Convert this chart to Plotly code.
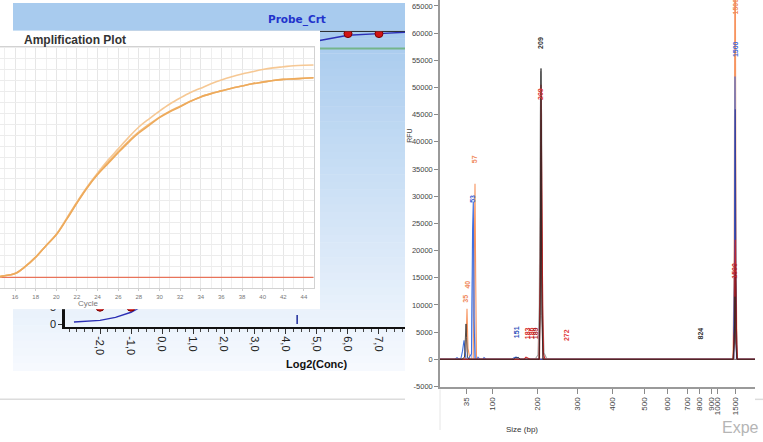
import plotly.graph_objects as go

W, H = 763, 442


def px(x):
    return x / W


def py(y):
    return 1 - y / H


# ---------------- Standard curve (Probe_Crt) ----------------
STD_LOG2_CONC = [-2, -1, 6, 7]
STD_VALUE = [5.0, 5.0, 86.2, 86.2]
FIT_LOG2_CONC = [-2.84, -2.5, -2.0, -1.5, -1.0, -0.5, 0, 1, 2, 3, 4, 5, 6, 7, 7.84]
FIT_VALUE = [0.6, 0.8, 1.1, 2.0, 3.5, 6.0, 20, 45, 65, 75, 80, 84, 85.7, 86.2, 86.6]
STD_TICKS = [-2, -1, 0, 1, 2, 3, 4, 5, 6, 7]
STD_TICKTEXT = ["-2,0", "-1,0", "0,0", "1,0", "2,0", "3,0", "4,0", "5,0", "6,0", "7,0"]
STD_Y_TICKS = [0, 5]
UNKNOWN_LOG2 = 4.36
GREEN_LEVEL = 81.8

# ---------------- Amplification plot ----------------
CYCLES = list(range(14, 46))
AMP_A = [1.0, 1.15, 1.35, 2.0, 2.85, 3.9, 4.9, 6.3, 7.8, 9.2, 10.4, 11.4, 12.4, 13.35, 14.2, 14.9,
         15.6, 16.15, 16.6, 17.1, 17.5, 17.8, 18.05, 18.3, 18.5, 18.7, 18.85, 19.0, 19.1, 19.15, 19.2, 19.25]
AMP_B = [1.0, 1.15, 1.35, 2.0, 2.85, 3.9, 4.95, 6.4, 7.9, 9.3, 10.55, 11.7, 12.75, 13.8, 14.75, 15.5,
         16.2, 16.85, 17.4, 17.9, 18.3, 18.7, 19.05, 19.35, 19.6, 19.8, 20.0, 20.15, 20.25, 20.35, 20.4, 20.42]
AMP_C = [1.0, 1.15, 1.35, 2.0, 2.85, 3.9, 4.92, 6.35, 7.85, 9.25, 10.45, 11.5, 12.5, 13.45, 14.3, 15.0,
         15.65, 16.2, 16.65, 17.1, 17.5, 17.8, 18.05, 18.3, 18.5, 18.7, 18.85, 19.0, 19.1, 19.15, 19.2, 19.25]
THRESHOLD = 1.0
CYCLE_TICKS = list(range(16, 45, 2))

# ---------------- Electropherogram ----------------
SIZE_TICKS = [35, 100, 200, 300, 400, 500, 600, 700, 800, 900, 1000, 1500]
SIZE_TICK_POS = [26, 52.3, 97.7, 137.7, 172.3, 204.3, 227.7, 247.7, 259.7, 271, 277.3, 295]
RFU_TICKS = list(range(-5000, 65001, 5000))

EP_LIGHTBLUE_T = [0, 31.5, 32.5, 33.6, 34.5, 35.5, 293.5, 294.6, 295.2, 295.8, 297, 315]
EP_LIGHTBLUE_Y = [0, 0, 15000, 26000, 10000, 0, 0, 15000, 36000, 12000, 0, 0]
EP_ORANGE_T = [0, 24, 25.8, 27, 28, 30, 33.2, 34.3, 35, 35.7, 36.5, 293, 294.2, 294.8, 295.4, 296, 297, 315]
EP_ORANGE_Y = [0, 0, 1500, 9300, 2000, 0, 0, 15000, 32300, 15000, 0, 0, 20000, 67000, 67000, 20000, 0, 0]
EP_BLUE_T = [0, 15, 17, 19, 21, 22.5, 24, 25, 26, 28, 31.5, 32.6, 33.3, 34, 35, 37, 38, 40, 43, 44, 46,
             72, 74, 76, 78, 80, 293.5, 294.5, 295, 295.6, 296.5, 315]
EP_BLUE_Y = [0, 0, 300, 0, 200, 1500, 3500, 1200, 0, 0, 1000, 24000, 29000, 8000, 0, 0, 400, 0, 0, 300, 0,
             0, 300, 400, 300, 0, 0, 18000, 52000, 10000, 0, 0]
EP_PURPLE_T = [0, 293.8, 294.9, 295.3, 295.9, 296.8, 315]
EP_PURPLE_Y = [0, 0, 20000, 46000, 15000, 0, 0]
EP_GRAY_T = [0, 95, 98, 99.3, 100.3, 100.8, 101.6, 102.6, 104, 107, 315]
EP_GRAY_Y = [0, 0, 800, 10000, 45000, 53000, 45000, 10000, 1200, 0, 0]
EP_RED_T = [0, 84, 86, 88, 90, 99, 100.3, 101, 101.6, 102.3, 102.8, 103.5, 105, 293, 294.5, 295.2, 296, 297.5, 315]
EP_RED_Y = [0, 0, 400, 200, 0, 0, 15000, 50500, 30000, 19000, 8000, 1000, 0, 0, 5000, 22000, 4000, 0, 0]
EP_DARKRED_T = [0, 99.5, 100.6, 101.2, 101.8, 103, 293.5, 294.8, 295.4, 296.2, 297, 315]
EP_DARKRED_Y = [0, 0, 20000, 44000, 15000, 0, 0, 8000, 17500, 5000, 0, 0]
EP_BLACK_T = [0, 22, 24.5, 25.5, 26, 26.6, 27.5, 30, 74, 75.5, 77, 78.5, 80, 99, 100.2, 100.7, 101,
              101.3, 101.8, 103, 293, 294.3, 295, 295.7, 297, 315]
EP_BLACK_Y = [0, 0, 400, 4500, 6500, 4000, 300, 0, 0, 300, 250, 350, 0, 0, 8000, 40000, 53500,
              38000, 8000, 0, 0, 3000, 11500, 3000, 0, 0]

PEAK_LABEL_T = [25.7, 27.3, 32.5, 34.5, 76.5, 87, 91, 95, 126.7, 260.7, 101, 101, 295.7, 295.5, 295]
PEAK_LABEL_RFU = [11100, 13800, 29600, 36900, 4900, 4800, 4800, 4800, 4400, 4700, 58200, 48800, 57000, 64800, 16300]
PEAK_LABEL_TEXT = ["35", "40", "53", "57", "151", "183", "186", "189", "272", "824", "209", "209", "1500", "1500", "1500"]
PEAK_LABEL_COLOR = ["#F08A5D", "#F08A5D", "#3B63D6", "#F08A5D", "#2A4DB8", "#D42A2A", "#D42A2A", "#B01E1E",
                    "#E03A3A", "#333333", "#333333", "#E03A3A", "#4468D8", "#F08A5D", "#C42828"]

fig = go.Figure()

# ---- standard curve traces (xy) ----
fig.add_trace(go.Scatter(x=FIT_LOG2_CONC, y=FIT_VALUE, mode="lines",
                         line=dict(color="#2B2FB5", width=1.4), xaxis="x", yaxis="y",
                         showlegend=False, hoverinfo="skip"))
fig.add_trace(go.Scatter(x=STD_LOG2_CONC, y=STD_VALUE, mode="markers",
                         marker=dict(color="#D01414", size=8, line=dict(color="#7A0000", width=1)),
                         xaxis="x", yaxis="y", showlegend=False, hoverinfo="skip"))

# ---- white inset panel holder (x2y2) ----
fig.add_trace(go.Scatter(x=[None], y=[None], xaxis="x2", yaxis="y2", showlegend=False, hoverinfo="skip"))

# ---- amplification curves (x3y3) ----
fig.add_trace(go.Scatter(x=[CYCLES[0], CYCLES[-1]], y=[THRESHOLD, THRESHOLD], mode="lines",
                         line=dict(color="#E8735A", width=1.2), xaxis="x3", yaxis="y3",
                         showlegend=False, hoverinfo="skip"))
for vals, col in [(AMP_B, "#F6C894"), (AMP_C, "#F2BB7A"), (AMP_A, "#EDAA5C")]:
    fig.add_trace(go.Scatter(x=CYCLES, y=vals, mode="lines", line=dict(color=col, width=1.6, shape="spline"),
                             xaxis="x3", yaxis="y3", showlegend=False, hoverinfo="skip"))

# ---- electropherogram (x4y4) ----
ep_series = [
    (EP_LIGHTBLUE_T, EP_LIGHTBLUE_Y, "#9DBBF2", 1.1),
    (EP_ORANGE_T, EP_ORANGE_Y, "#F7945F", 1.1),
    (EP_BLUE_T, EP_BLUE_Y, "#3F6FE0", 1.1),
    (EP_PURPLE_T, EP_PURPLE_Y, "#3A3F9A", 1.1),
    (EP_GRAY_T, EP_GRAY_Y, "#A0A0A0", 1.1),
    (EP_RED_T, EP_RED_Y, "#D02424", 1.1),
    (EP_DARKRED_T, EP_DARKRED_Y, "#8C1C1C", 1.1),
    (EP_BLACK_T, EP_BLACK_Y, "#2A2A2A", 0.8),
]
for t, y, col, w in ep_series:
    fig.add_trace(go.Scatter(x=t, y=y, mode="lines", line=dict(color=col, width=w),
                             xaxis="x4", yaxis="y4", showlegend=False, hoverinfo="skip"))

# ---------------- shapes ----------------
shapes = []
top_col = (168, 203, 238)
bot_col = (246, 249, 254)
shapes.append(dict(type="rect", xref="paper", yref="paper", x0=px(13), x1=px(405), y0=py(31), y1=py(3),
                   fillcolor="rgb(%d,%d,%d)" % top_col, line=dict(width=0), layer="below"))
n = 45
y_start, y_end = 31, 374
for i in range(n):
    f = i / (n - 1)
    c = tuple(int(round(top_col[k] + (bot_col[k] - top_col[k]) * f)) for k in range(3))
    ya = y_start + (y_end - y_start) * i / n
    yb = y_start + (y_end - y_start) * (i + 1) / n
    shapes.append(dict(type="rect", xref="paper", yref="paper", x0=px(13), x1=px(405), y0=py(yb + 0.5), y1=py(ya),
                       fillcolor="rgb(%d,%d,%d)" % c, line=dict(width=0), layer="below"))
shapes.append(dict(type="line", xref="paper", yref="paper", x0=px(65), x1=px(405), y0=py(31.7), y1=py(31.7),
                   line=dict(color="#222222", width=1), layer="below"))
shapes.append(dict(type="line", xref="x", yref="y", x0=-3.13, x1=7.84, y0=GREEN_LEVEL, y1=GREEN_LEVEL,
                   line=dict(color="#74B58C", width=2), layer="below"))
shapes.append(dict(type="line", xref="x", yref="y", x0=UNKNOWN_LOG2, x1=UNKNOWN_LOG2, y0=0, y1=80,
                   line=dict(color="#1E2C9A", width=1.5, dash="dash"), layer="below"))
shapes.append(dict(type="line", xref="paper", yref="paper", x0=0, x1=px(405), y0=py(403), y1=py(403),
                   line=dict(color="#DCDCDC", width=1.5), layer="below"))
shapes.append(dict(type="line", xref="paper", yref="paper", x0=px(755), x1=1, y0=py(403), y1=py(403),
                   line=dict(color="#DCDCDC", width=1.5), layer="below"))
shapes.append(dict(type="line", xref="paper", yref="paper", x0=px(440), x1=px(440), y0=py(393), y1=py(434),
                   line=dict(color="#E6E6E6", width=1), layer="below"))

# ---------------- annotations ----------------
ann = []
ann.append(dict(text="<b>Probe_Crt</b>", x=px(296.5), y=py(20), xref="paper", yref="paper", showarrow=False,
                font=dict(family="DejaVu Sans", size=10.5, color="#2233CC"), xanchor="center", yanchor="middle"))
ann.append(dict(text="<b>Amplification Plot</b>", x=px(22), y=py(40), xref="paper", yref="paper", showarrow=False,
                font=dict(family="Liberation Sans, Arial", size=12, color="#333333"), xanchor="left", yanchor="middle"))
ann.append(dict(text="Cycle", x=px(88), y=py(306), xref="paper", yref="paper", showarrow=False,
                font=dict(family="Liberation Sans, Arial", size=8, color="#777777"), xanchor="center", yanchor="middle"))
ann.append(dict(text="<b>Log2(Conc)</b>", x=px(316.5), y=py(367.5), xref="paper", yref="paper", showarrow=False,
                font=dict(family="Liberation Sans, Arial", size=11, color="#111111"), xanchor="center", yanchor="middle"))
ann.append(dict(text="RFU", x=px(410), y=py(137), xref="paper", yref="paper", showarrow=False, textangle=-90,
                font=dict(family="Liberation Sans, Arial", size=7, color="#444444"), xanchor="center", yanchor="middle"))
ann.append(dict(text="Size (bp)", x=px(522), y=py(433), xref="paper", yref="paper", showarrow=False,
                font=dict(family="Liberation Sans Narrow, Liberation Sans, Arial", size=8, color="#333333"),
                xanchor="center", yanchor="middle"))
ann.append(dict(text="Expe", x=px(761), y=py(431), xref="paper", yref="paper", showarrow=False,
                font=dict(family="Liberation Sans, Arial", size=16, color="#B5B5B5"), xanchor="right", yanchor="middle"))
for t, r, txt, col in zip(PEAK_LABEL_T, PEAK_LABEL_RFU, PEAK_LABEL_TEXT, PEAK_LABEL_COLOR):
    ann.append(dict(text="<b>%s</b>" % txt, x=t, y=r, xref="x4", yref="y4", showarrow=False, textangle=-90,
                    font=dict(family="Liberation Sans, Arial", size=7, color=col), xanchor="center", yanchor="middle"))

fig.update_layout(
    width=W, height=H, margin=dict(l=0, r=0, t=0, b=0),
    paper_bgcolor="white", plot_bgcolor="white",
    showlegend=False, shapes=shapes, annotations=ann,
    xaxis=dict(domain=[px(65), px(405)], range=[-3.129, 7.839], anchor="y",
               showgrid=False, zeroline=False, showline=True, linecolor="#111111", linewidth=2,
               ticks="outside", ticklen=5, tickcolor="#333333", tickvals=STD_TICKS, ticktext=STD_TICKTEXT,
               tickangle=90, tickfont=dict(family="Liberation Sans, Arial", size=11, color="#222222"),
               minor=dict(dtick=0.25, tick0=0, ticks="outside", ticklen=3, tickcolor="#444444")),
    yaxis=dict(domain=[py(330), py(31.7)], range=[-0.88, 86.85], anchor="x",
               showgrid=False, zeroline=False, showline=True, linecolor="#111111", linewidth=2.5,
               ticks="outside", ticklen=4, tickcolor="#333333", tickvals=STD_Y_TICKS,
               tickfont=dict(family="Liberation Sans, Arial", size=11, color="#222222")),
    xaxis2=dict(domain=[0, px(320)], range=[0, 1], anchor="y2", visible=False),
    yaxis2=dict(domain=[py(312), py(31)], range=[0, 1], anchor="x2", visible=False),
    xaxis3=dict(domain=[0, px(313.5)], range=[14.54, 44.93], anchor="y3",
                showgrid=True, gridcolor="#E6E6E6", gridwidth=1, zeroline=False,
                showline=True, mirror=True, linecolor="#D2D2D2", linewidth=1,
                tickvals=CYCLE_TICKS, ticks="outside", ticklen=2, tickcolor="#CCCCCC",
                tickfont=dict(family="Liberation Sans, Arial", size=6, color="#777777"),
                minor=dict(dtick=1, tick0=0, showgrid=True, gridcolor="#EFEFEF", gridwidth=1)),
    yaxis3=dict(domain=[py(291), py(47)], range=[0, 22.1], anchor="x3",
                showgrid=True, gridcolor="#ECECEC", gridwidth=1, dtick=1, zeroline=False,
                showline=True, mirror=True, linecolor="#D2D2D2", linewidth=1, showticklabels=False),
    xaxis4=dict(domain=[px(440), px(755)], range=[0, 315], anchor="y4",
                showgrid=False, zeroline=False, showline=True, linecolor="#9A9A9A", linewidth=1.5,
                tickvals=SIZE_TICK_POS, ticktext=[str(s) for s in SIZE_TICKS], tickangle=-90,
                ticks="outside", ticklen=5, tickcolor="#8A8A8A",
                tickfont=dict(family="Liberation Sans Narrow, Liberation Sans, Arial", size=8, color="#444444")),
    yaxis4=dict(domain=[py(391), 1], range=[-5182, 66090], anchor="x4",
                showgrid=False, zeroline=True, zerolinecolor="#222222", zerolinewidth=1.2,
                showline=True, linecolor="#9A9A9A", linewidth=1.5,
                tickvals=RFU_TICKS, ticktext=[str(v) for v in RFU_TICKS],
                ticks="outside", ticklen=4, tickcolor="#8A8A8A",
                tickfont=dict(family="Liberation Sans Narrow, Liberation Sans, Arial", size=7.5, color="#444444")),
)

fig.write_html("out.html")
